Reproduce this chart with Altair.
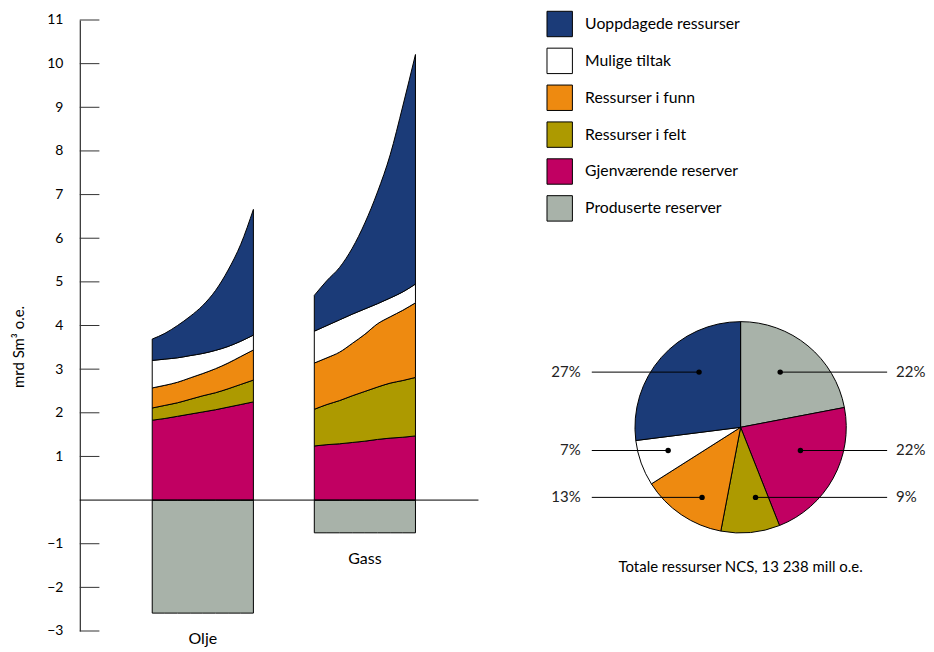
import altair as alt
import pandas as pd

# ---------------- data ----------------
LAYERS = ["Uoppdagede ressurser", "Mulige tiltak", "Ressurser i funn",
          "Ressurser i felt", "Gjenværende reserver", "Produserte reserver"]
COLORS = ["#1b3b78", "#ffffff", "#ee8a10", "#ad9a00", "#c10062", "#a8b2a9"]
# stacking order from the zero line outward
STACK_ORDER = ["Produserte reserver", "Gjenværende reserver", "Ressurser i felt",
               "Ressurser i funn", "Mulige tiltak", "Uoppdagede ressurser"]

BARS = ["Olje", "Gass"]
# sample positions across each column (fraction of column width)
POS = [0, 0.125, 0.25, 0.375, 0.5, 0.625, 0.75, 0.875, 1]

olje_produserte = [-2.59, -2.59, -2.59, -2.59, -2.59, -2.59, -2.59, -2.59, -2.59]
olje_gjenvaerende = [1.83, 1.87, 1.92, 1.97, 2.02, 2.07, 2.13, 2.19, 2.25]
olje_felt = [0.28, 0.30, 0.31, 0.34, 0.37, 0.39, 0.42, 0.46, 0.50]
olje_funn = [0.46, 0.46, 0.47, 0.49, 0.51, 0.55, 0.59, 0.64, 0.69]
olje_mulige = [0.63, 0.60, 0.56, 0.51, 0.46, 0.42, 0.38, 0.35, 0.34]
olje_uoppdagede = [0.49, 0.59, 0.74, 0.90, 1.10, 1.37, 1.75, 2.22, 2.88]

gass_produserte = [-0.75, -0.75, -0.75, -0.75, -0.75, -0.75, -0.75, -0.75, -0.75]
gass_gjenvaerende = [1.24, 1.27, 1.29, 1.32, 1.35, 1.39, 1.42, 1.44, 1.47]
gass_felt = [0.84, 0.92, 0.99, 1.07, 1.14, 1.20, 1.26, 1.30, 1.34]
gass_funn = [1.06, 1.07, 1.11, 1.20, 1.31, 1.45, 1.52, 1.61, 1.71]
gass_mulige = [0.73, 0.74, 0.74, 0.67, 0.58, 0.46, 0.43, 0.42, 0.43]
gass_uoppdagede = [0.82, 1.03, 1.20, 1.51, 1.97, 2.56, 3.28, 4.26, 5.26]

Y_TICKS = [-3, -2, -1, 1, 2, 3, 4, 5, 6, 7, 8, 9, 10, 11]
Y_TITLE = "mrd Sm³ o.e."

# pie: totale ressurser, clockwise from 12 o'clock
PIE_LAYERS = ["Produserte reserver", "Gjenværende reserver", "Ressurser i felt",
              "Ressurser i funn", "Mulige tiltak", "Uoppdagede ressurser"]
PIE_SHARE = [22, 22, 9, 13, 7, 27]
PIE_CAPTION = "Totale ressurser NCS, 13 238 mill o.e."

# ---------------- layout (not data) ----------------
PLOT_W, PLOT_H = 820, 613
Y_MIN, Y_MAX = -3, 11
BAR_LEFT = {"Olje": 72.7, "Gass": 235.3}
BAR_W = 101.5
BASE_LINE_END = 400
PIE_CX, PIE_CY, PIE_R = 663, 1.668, 106
# annotation rows of the pie labels (y in axis units) and dot x positions
LEAD_ROW = {"Produserte reserver": 2.932, "Uoppdagede ressurser": 2.932,
            "Gjenværende reserver": 1.136, "Mulige tiltak": 1.136,
            "Ressurser i felt": 0.062, "Ressurser i funn": 0.062}
LEAD_DOT = {"Produserte reserver": 702.7, "Uoppdagede ressurser": 621.3,
            "Gjenværende reserver": 723, "Mulige tiltak": 590.3,
            "Ressurser i felt": 678, "Ressurser i funn": 624.3}
LEAD_SIDE = {"Produserte reserver": "R", "Uoppdagede ressurser": "L",
             "Gjenværende reserver": "R", "Mulige tiltak": "L",
             "Ressurser i felt": "R", "Ressurser i funn": "L"}
LINE_L, LINE_R = 513.7, 810
TEXT_L, TEXT_R = 502.5, 819
CAPTION_Y = -1.538
FONT = "Lato"

series = {
    "Olje": {"Produserte reserver": olje_produserte, "Gjenværende reserver": olje_gjenvaerende,
             "Ressurser i felt": olje_felt, "Ressurser i funn": olje_funn,
             "Mulige tiltak": olje_mulige, "Uoppdagede ressurser": olje_uoppdagede},
    "Gass": {"Produserte reserver": gass_produserte, "Gjenværende reserver": gass_gjenvaerende,
             "Ressurser i felt": gass_felt, "Ressurser i funn": gass_funn,
             "Mulige tiltak": gass_mulige, "Uoppdagede ressurser": gass_uoppdagede},
}

# stack the layers of each column (negatives below zero, positives upward)
rows = []
for bar in BARS:
    for i, p in enumerate(POS):
        cum = 0.0
        for layer in STACK_ORDER:
            v = series[bar][layer][i]
            if v < 0:
                lo, hi = v, 0.0
            else:
                lo, hi = cum, cum + v
                cum = hi
            rows.append({"bar": bar, "layer": layer, "x": BAR_LEFT[bar] + p * BAR_W,
                         "value": v, "y0": lo, "y1": hi})
bars_df = pd.DataFrame(rows)

x_scale = alt.Scale(domain=[0, PLOT_W], nice=False, zero=False)
y_scale = alt.Scale(domain=[Y_MIN, Y_MAX], nice=False, zero=False)
color_scale = alt.Scale(domain=LAYERS, range=COLORS)

y_axis = alt.Axis(values=Y_TICKS, ticks=False, tickSize=0, domain=True, domainColor="black",
                  domainWidth=1, grid=False, labelFont=FONT, labelFontSize=14,
                  labelColor="black", labelPadding=17, title=None)


def Y(field):
    return alt.Y(field, scale=y_scale, axis=y_axis)


def X(field):
    return alt.X(field, scale=x_scale, axis=None)


legend = alt.Legend(title=None, orient="none", legendX=468, legendY=-9.5,
                    symbolType="square", symbolSize=650, symbolStrokeColor="black",
                    symbolStrokeWidth=1, symbolOpacity=1, labelFont=FONT,
                    labelFontSize=15.8, labelColor="black", rowPadding=6,
                    labelOffset=12, padding=0)

areas = alt.Chart(bars_df).mark_area(
    stroke="black", strokeWidth=1, interpolate="monotone", opacity=1
).encode(
    x=X("x:Q"),
    y=Y("y1:Q"),
    y2="y0:Q",
    color=alt.Color("layer:N", scale=color_scale, legend=legend),
    detail="bar:N",
)

base_line = alt.Chart(pd.DataFrame({"y": [0], "x0": [0], "x1": [BASE_LINE_END]})).mark_rule(
    color="black", strokeWidth=1
).encode(y=Y("y:Q"), x=X("x0:Q"), x2="x1:Q")

tick_marks = alt.Chart(pd.DataFrame({"y": Y_TICKS})).mark_rule(color="#333333", strokeWidth=1).encode(
    y=Y("y:Q"), x=alt.value(0), x2=alt.value(19.7),
)

# rotated y-axis title (placed below the axis middle, as in the original)
y_title = alt.Chart(pd.DataFrame({"t": [Y_TITLE]})).mark_text(
    angle=270, align="center", baseline="alphabetic", font=FONT, fontSize=15, color="black"
).encode(x=alt.value(-56), y=alt.value(328), text="t:N")

cat_df = pd.DataFrame({
    "bar": BARS,
    "x": [BAR_LEFT[b] + BAR_W / 2 for b in BARS],
    "y": [min(series[b]["Produserte reserver"]) for b in BARS],
})
cat_labels = alt.Chart(cat_df).mark_text(
    baseline="top", dy=18, font=FONT, fontSize=16, color="black"
).encode(x=X("x:Q"), y=Y("y:Q"), text="bar:N")

# pie centre in pixels of the plot area
pie_cx_px = PIE_CX / PLOT_W * PLOT_W
pie_cy_px = (Y_MAX - PIE_CY) / (Y_MAX - Y_MIN) * PLOT_H

pie_df = pd.DataFrame({"layer": PIE_LAYERS, "share": PIE_SHARE,
                       "o": list(range(len(PIE_LAYERS)))})
pie = alt.Chart(pie_df).mark_arc(
    radius=PIE_R, stroke="black", strokeWidth=1, x=pie_cx_px, y=pie_cy_px
).encode(
    theta=alt.Theta("share:Q"),
    color=alt.Color("layer:N", scale=color_scale, legend=None),
    order=alt.Order("o:Q"),
)

lead_df = pd.DataFrame({
    "layer": PIE_LAYERS,
    "label": [f"{s}%" for s in PIE_SHARE],
    "side": [LEAD_SIDE[l] for l in PIE_LAYERS],
    "y": [LEAD_ROW[l] for l in PIE_LAYERS],
    "x": [LEAD_DOT[l] for l in PIE_LAYERS],
})
lead_df["end"] = [LINE_L if s == "L" else LINE_R for s in lead_df["side"]]
lead_df["tx"] = [TEXT_L if s == "L" else TEXT_R for s in lead_df["side"]]

lead_base = alt.Chart(lead_df)
lead_lines = lead_base.mark_rule(color="black", strokeWidth=1).encode(
    x=X("x:Q"), x2="end:Q", y=Y("y:Q"),
)
lead_dots = lead_base.mark_circle(color="black", size=30, opacity=1).encode(
    x=X("x:Q"), y=Y("y:Q"),
)
lead_text_l = lead_base.transform_filter(alt.datum.side == "L").mark_text(
    align="right", baseline="middle", font=FONT, fontSize=15, color="#222222"
).encode(x=X("tx:Q"), y=Y("y:Q"), text="label:N")
lead_text_r = lead_base.transform_filter(alt.datum.side == "R").mark_text(
    align="left", baseline="middle", font=FONT, fontSize=15, color="#222222"
).encode(x=X("tx:Q"), y=Y("y:Q"), text="label:N")

caption = alt.Chart(pd.DataFrame({"t": [PIE_CAPTION], "x": [PIE_CX], "y": [CAPTION_Y]})).mark_text(
    align="center", baseline="middle", font=FONT, fontSize=15, color="black"
).encode(x=X("x:Q"), y=Y("y:Q"), text="t:N")

chart = alt.layer(
    areas, base_line, tick_marks, y_title, cat_labels, pie, lead_lines, lead_dots,
    lead_text_l, lead_text_r, caption,
).properties(
    width=PLOT_W, height=PLOT_H,
    padding={"left": 4, "top": 1, "right": 0, "bottom": 0},
).configure(font=FONT).configure_view(stroke=None)

chart.save("out.html", embed_options={"renderer": "svg", "actions": False})
